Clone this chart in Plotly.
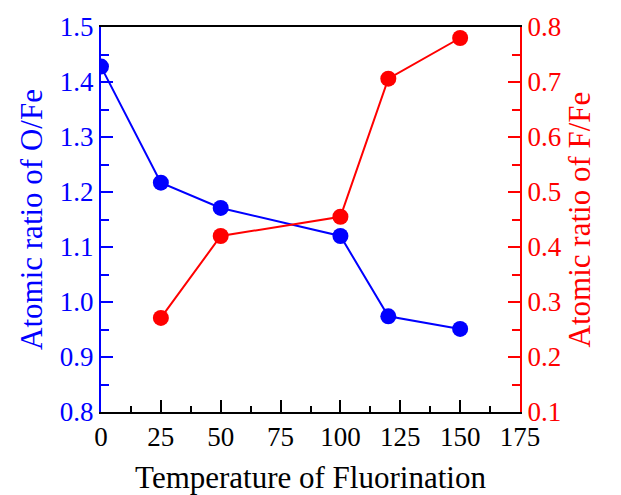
import plotly.graph_objects as go

temp_of = [0, 25, 50, 100, 120, 150]
o_fe = [1.428, 1.217, 1.171, 1.120, 0.974, 0.951]
temp_ff = [25, 50, 100, 120, 150]
f_fe = [0.271, 0.420, 0.455, 0.706, 0.780]

BLUE = "#0000FF"
RED = "#FF0000"
FONT = "Liberation Serif"

fig = go.Figure()
fig.add_trace(go.Scatter(x=temp_of, y=o_fe, mode="lines+markers",
                         line=dict(color=BLUE, width=2),
                         marker=dict(color=BLUE, size=16), yaxis="y", showlegend=False))
fig.add_trace(go.Scatter(x=temp_ff, y=f_fe, mode="lines+markers",
                         line=dict(color=RED, width=2),
                         marker=dict(color=RED, size=16), yaxis="y2", showlegend=False))

fig.update_layout(
    width=613, height=487,
    margin=dict(l=93, r=101, t=19, b=83),
    paper_bgcolor="white", plot_bgcolor="white",
    font=dict(family=FONT, size=27, color="black"),
    xaxis=dict(range=[0, 175], tickvals=[0, 25, 50, 75, 100, 125, 150, 175],
               ticks="inside", ticklen=12, tickwidth=2, tickcolor="black",
               minor=dict(dtick=12.5, ticks="inside", ticklen=6, tickwidth=2, tickcolor="black"),
               showline=True, linecolor="black", linewidth=2, mirror=True,
               showgrid=False, zeroline=False, automargin=False,
               tickfont=dict(family=FONT, size=27, color="black"),
               title=dict(text="Temperature of Fluorination", font=dict(family=FONT, size=31, color="black"),
                          standoff=16)),
    yaxis=dict(range=[0.8, 1.5], dtick=0.1, tickformat=".1f",
               ticks="inside", ticklen=12, tickwidth=2, tickcolor=BLUE,
               minor=dict(dtick=0.05, ticks="inside", ticklen=8, tickwidth=2, tickcolor=BLUE),
               showline=True, linecolor=BLUE, linewidth=2,
               showgrid=False, zeroline=False, automargin=False,
               tickfont=dict(family=FONT, size=27, color=BLUE),
               title=dict(text="Atomic ratio of O/Fe", font=dict(family=FONT, size=31, color=BLUE),
                          standoff=8)),
    yaxis2=dict(range=[0.1, 0.8], dtick=0.1, tickformat=".1f", overlaying="y", side="right",
                ticks="inside", ticklen=12, tickwidth=2, tickcolor=RED,
                minor=dict(dtick=0.05, ticks="inside", ticklen=8, tickwidth=2, tickcolor=RED),
                showline=True, linecolor=RED, linewidth=2,
                showgrid=False, zeroline=False, automargin=False,
                tickfont=dict(family=FONT, size=27, color=RED),
                title=dict(text="Atomic ratio of F/Fe", font=dict(family=FONT, size=31, color=RED),
                           standoff=8)),
)

fig.write_html("out.html")
